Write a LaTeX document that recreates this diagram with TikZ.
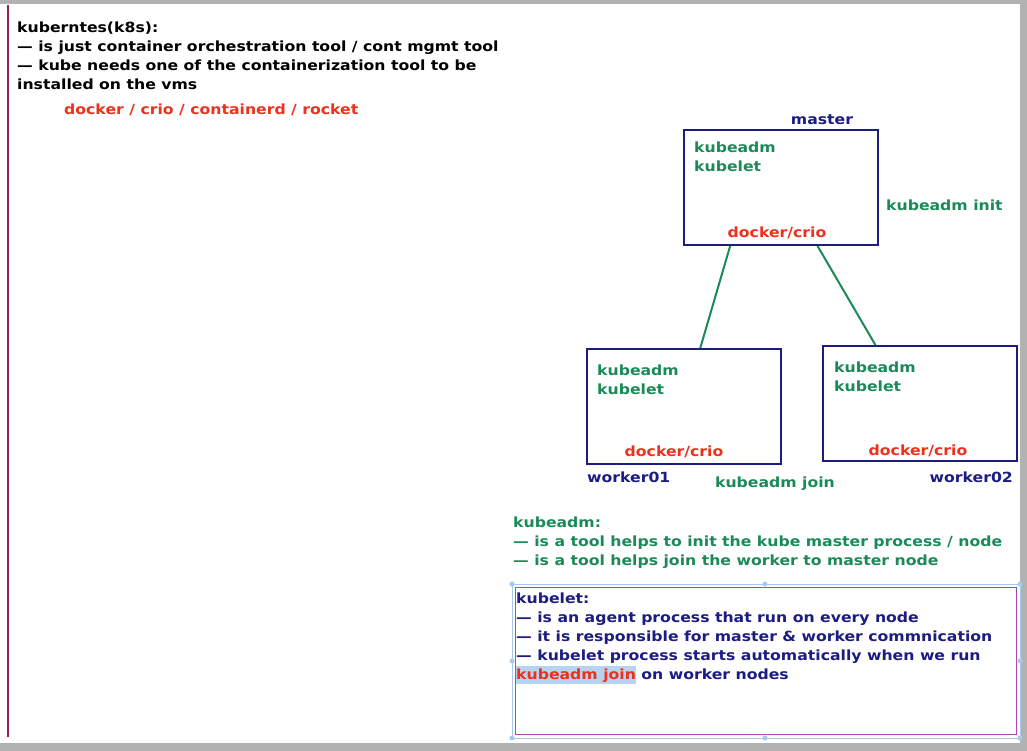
\documentclass[tikz,border=0pt]{standalone}
\usepackage{fontspec}
\setmainfont{DejaVu Sans}[FakeStretch=1.12]
\usetikzlibrary{positioning}

\definecolor{kubered}{RGB}{238,48,28}
\definecolor{kubegreen}{RGB}{28,138,88}
\definecolor{kubenavy}{RGB}{28,28,130}
\definecolor{marginred}{RGB}{150,30,90}
\definecolor{notepurple}{RGB}{175,70,175}
\definecolor{selblue}{RGB}{170,200,236}
\definecolor{markblue}{RGB}{182,212,242}

\tikzset{
  notetext/.style={font=\bfseries\fontsize{14}{19}\selectfont, inner sep=0, align=left},
  vmbox/.style={draw=kubenavy, line width=2pt, minimum width=194pt, minimum height=115pt, inner sep=0},
  vmlink/.style={draw=kubegreen, line width=2pt}
}

\begin{document}
\begin{tikzpicture}[x=1pt,y=-1pt]
\useasboundingbox (0,0) rectangle (1027,751);
\fill[black!30] (0,0) rectangle (1027,751);
\fill[white] (0,4) rectangle (1020,743);
\draw[marginred, line width=1.5pt] (8,5) -- (8,737);

% intro notes
\node[notetext, anchor=north west] (intro) at (17,22)
  {kuberntes(k8s):\\
   — is just container orchestration tool / cont mgmt tool\\
   — kube needs one of the containerization tool to be\\
   installed on the vms};
\node[notetext, text=kubered, anchor=west] (runtimes) at (64,110) {docker / crio / containerd / rocket};

% machines
\node[vmbox] (master) at (781,187.5) {};
\node[vmbox] (worker1) at (683.5,406.5) {};
\node[vmbox] (worker2) at (919.5,403.5) {};

\node[notetext, text=kubenavy] (mastername) at (822,120) {master};
\node[notetext, text=kubegreen, anchor=north west] (mastertools) at (694,142) {kubeadm\\kubelet};
\node[notetext, text=kubered] (masterrt) at (777,233) {docker/crio};
\node[notetext, text=kubegreen, anchor=west] (initcmd) at (886,205) {kubeadm init};

\node[notetext, text=kubegreen, anchor=north west] (w1tools) at (597,365) {kubeadm\\kubelet};
\node[notetext, text=kubered] (w1rt) at (674,452) {docker/crio};
\node[notetext, text=kubenavy, anchor=west] (w1name) at (587,477) {worker01};

\node[notetext, text=kubegreen, anchor=north west] (w2tools) at (834,362) {kubeadm\\kubelet};
\node[notetext, text=kubered] (w2rt) at (918,451) {docker/crio};
\node[notetext, text=kubenavy, anchor=east] (w2name) at (1013,477) {worker02};

\node[notetext, text=kubegreen] (joincmd) at (775,484) {kubeadm join};

\draw[vmlink] (master.229.6) -- (worker1.74);
\draw[vmlink] (master.302.8) -- (worker2.127.7);

% kubeadm notes
\node[notetext, text=kubegreen, anchor=north west] (adminfo) at (513,517)
  {kubeadm:\\
   — is a tool helps to init the kube master process / node\\
   — is a tool helps join the worker to master node};

% kubelet notes
\draw[selblue, line width=1pt] (512,584) rectangle (1020,738);
\draw[notepurple, line width=1pt] (515,587) rectangle (1016,734);
\foreach \hx/\hy in {512/584, 765/584, 1020/584, 512/661, 1020/661, 512/738, 765/738, 1020/738}
  \fill[selblue] (\hx,\hy) circle (2.5);
\node[notetext, text=kubenavy, anchor=north west] (letinfo) at (516,593)
  {kubelet:\\
   — is an agent process that run on every node\\
   — it is responsible for master \& worker commnication\\
   — kubelet process starts automatically when we run\\
   {\setlength\fboxsep{0pt}\colorbox{markblue}{\rule[-4pt]{0pt}{18pt}\textcolor{kubered}{kubeadm join}}} on worker nodes};
\end{tikzpicture}
\end{document}
